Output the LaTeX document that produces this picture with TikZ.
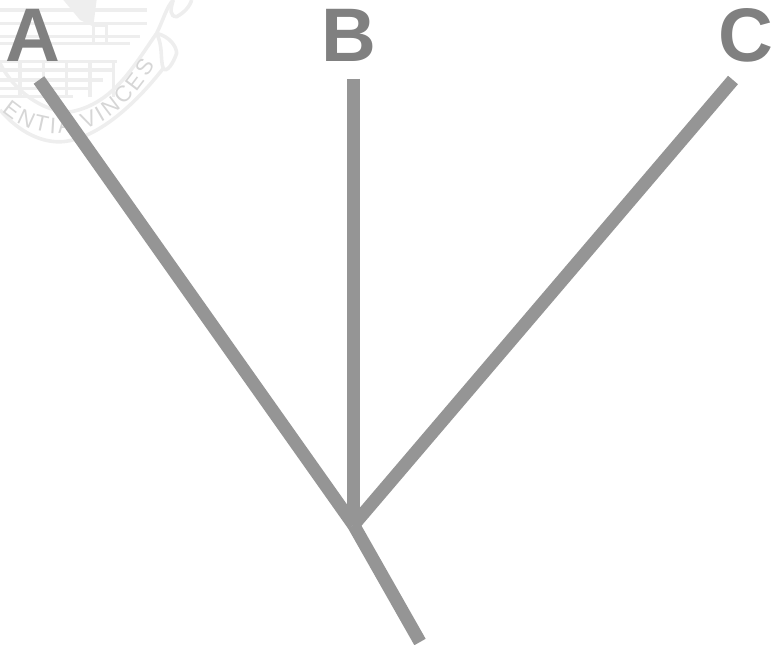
\documentclass[tikz,border=0pt]{standalone}
\usepackage{fontspec}
\setmainfont{Liberation Sans}
\usetikzlibrary{decorations.text}
\definecolor{branchgray}{HTML}{959595}
\definecolor{labelgray}{HTML}{808080}
\definecolor{sealgray}{HTML}{EEEEEE}
\tikzset{
  branch/.style={draw=branchgray, line width=0.325cm},
  taxon/.style={text=labelgray, inner sep=0pt, font=\bfseries\fontsize{54}{60}\selectfont},
  sealline/.style={draw=sealgray, line width=0.09cm}
}

\begin{document}
\begin{tikzpicture}
  \useasboundingbox (0,0) rectangle (19.35,16.1);

  % faint seal behind label A
  \begin{scope}[shift={(0,16.1)}, x=0.00833cm, y=-0.00833cm]
    \clip (0,0) rectangle (600,480);
    \draw[sealline] (0,330) .. controls (60,400) and (130,430) .. (190,425)
      .. controls (290,415) and (400,320) .. (490,205);
    \draw[sealline] (0,190) .. controls (40,270) and (130,340) .. (215,335)
      .. controls (340,310) and (400,200) .. (470,100);
    \draw[sealline] (470,100) .. controls (490,60) and (500,20) .. (520,0);
    \draw[sealline] (470,100) .. controls (510,110) and (530,140) .. (530,160)
      .. controls (520,190) and (500,220) .. (490,205) .. controls (480,180) and (490,140) .. (470,100);
    \draw[sealline] (520,0) .. controls (510,30) and (510,50) .. (530,50) .. controls (550,40) and (570,20) .. (575,0);
    \foreach \yy/\xx in {30/440,70/440,110/420,130/390,185/350,210/340,240/310,265/270,290/220}
      \draw[sealline] (0,\yy) -- (\xx,\yy);
    \foreach \xx in {60,130,200,270,340}
      \draw[sealline] (\xx,185) -- (\xx,290);
    \fill[sealgray] (190,0) -- (290,0) -- (280,80) -- (240,60) -- cycle;
    \draw[sealline] (280,75) rectangle (320,130);
    \path[decorate, decoration={text along path, text align={fit to path},
        text={|\fontsize{16}{16}\selectfont\color{sealgray!90!black}|ENTIA VINCES}}]
      (5,335) .. controls (120,440) and (330,435) .. (465,195);
  \end{scope}

  \coordinate (tipA) at (0.975,14.1);
  \coordinate (tipB) at (8.84,14.125);
  \coordinate (tipC) at (18.325,14.1);
  \coordinate (fork) at (8.84,2.975);
  \coordinate (root) at (10.5,0.05);

  \node[taxon] (labA) at (0.83,15.21) {A};
  \node[taxon] (labB) at (8.73,15.21) {B};
  \node[taxon] (labC) at (18.65,15.21) {C};

  \draw[branch] (tipA) -- (fork);
  \draw[branch] (tipB) -- (fork);
  \draw[branch] (tipC) -- (fork);
  \draw[branch] (fork) -- (root);
\end{tikzpicture}
\end{document}
